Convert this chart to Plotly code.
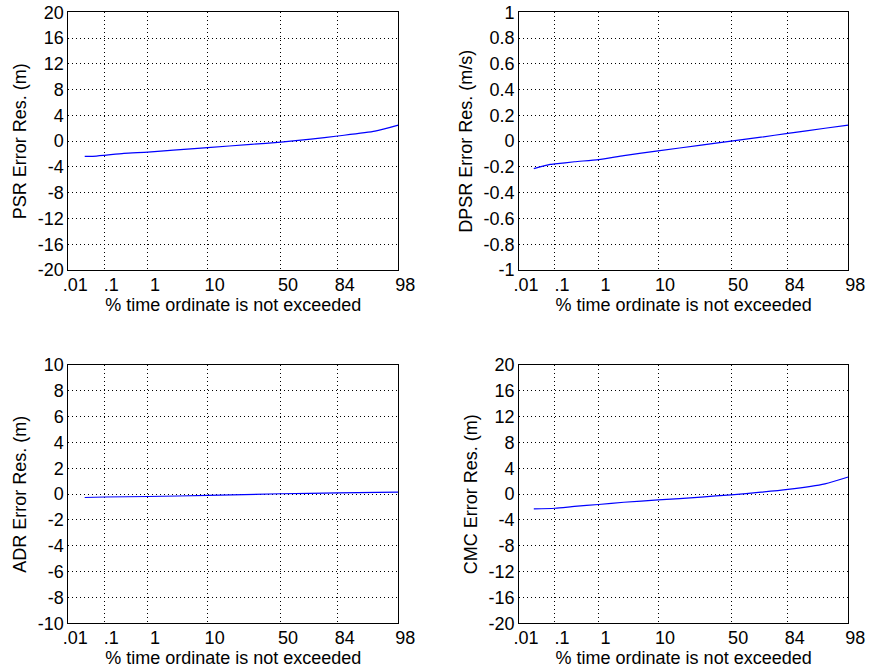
from statistics import NormalDist
import plotly.graph_objects as go

# ---------------- data ----------------
tick_pct = [0.01, 0.1, 1, 10, 50, 84, 98]
tick_txt = [".01", ".1", "1", "10", "50", "84", "98"]

psr_pct = [0.03, 0.05, 0.1, 0.3, 1, 3, 10, 30, 50, 70, 84, 95, 98]
psr_val = [-2.35, -2.35, -2.2, -1.9, -1.7, -1.4, -1.0, -0.5, -0.15, 0.3, 0.8, 1.55, 2.5]

dpsr_pct = [0.027, 0.075, 0.1, 0.3, 1, 3, 10, 30, 50, 70, 84, 95, 98]
dpsr_val = [-0.213, -0.18, -0.177, -0.16, -0.143, -0.112, -0.075, -0.031, 0.0, 0.031, 0.06, 0.1, 0.125]

adr_pct = [0.03, 0.1, 1, 10, 50, 84, 98]
adr_val = [-0.26, -0.22, -0.18, -0.1, 0.03, 0.1, 0.15]

cmc_pct = [0.027, 0.1, 0.3, 1, 3, 10, 30, 50, 70, 84, 95, 98]
cmc_val = [-2.29, -2.18, -1.9, -1.6, -1.25, -0.9, -0.45, -0.1, 0.3, 0.73, 1.6, 2.65]

psr_ticks = [-20, -16, -12, -8, -4, 0, 4, 8, 12, 16, 20]
dpsr_ticks = [-1, -0.8, -0.6, -0.4, -0.2, 0, 0.2, 0.4, 0.6, 0.8, 1]
adr_ticks = [-10, -8, -6, -4, -2, 0, 2, 4, 6, 8, 10]
cmc_ticks = [-20, -16, -12, -8, -4, 0, 4, 8, 12, 16, 20]

# ---------------- helpers ----------------
nd = NormalDist()


def z(p):
    return nd.inv_cdf(p / 100.0)


def fmt(v):
    return "%g" % v


FONT = "Liberation Sans, Arial, sans-serif"
fig = go.Figure()

panels = [
    (psr_pct, psr_val, psr_ticks, "PSR Error Res. (m)", "x", "y", [0.0784, 0.4573], [0.5982, 0.9817]),
    (dpsr_pct, dpsr_val, dpsr_ticks, "DPSR Error Res. (m/s)", "x2", "y2", [0.5959, 0.9739], [0.5982, 0.9817]),
    (adr_pct, adr_val, adr_ticks, "ADR Error Res. (m)", "x3", "y3", [0.0784, 0.4573], [0.0725, 0.4568]),
    (cmc_pct, cmc_val, cmc_ticks, "CMC Error Res. (m)", "x4", "y4", [0.5959, 0.9739], [0.0725, 0.4568]),
]

layout = {}
for pct, val, yt, ytitle, xa, ya, xdom, ydom in panels:
    fig.add_trace(go.Scatter(
        x=[z(p) for p in pct], y=val, mode="lines",
        line=dict(color="#0000ff", width=1.2, shape="spline", smoothing=0.6),
        xaxis=xa, yaxis=ya, showlegend=False, hoverinfo="skip"))
    xkey = "xaxis" + xa[1:]
    ykey = "yaxis" + ya[1:]
    layout[xkey] = dict(
        domain=xdom, anchor=ya, range=[z(tick_pct[0]), z(tick_pct[-1])],
        automargin=False,
        tickmode="array", tickvals=[z(p) for p in tick_pct], ticktext=tick_txt,
        showgrid=True, gridcolor="black", gridwidth=1, griddash="1px,3px",
        showline=True, linecolor="black", linewidth=1, mirror=True,
        zeroline=False, ticks="", ticklabelshift=7, ticklabelstandoff=-2,
        tickfont=dict(family=FONT, size=18, color="black"),
        title=dict(text="% time ordinate is not exceeded",
                   font=dict(family=FONT, size=18, color="black"), standoff=0),
    )
    layout[ykey] = dict(
        domain=ydom, anchor=xa, range=[yt[0], yt[-1]],
        automargin=False,
        tickmode="array", tickvals=yt, ticktext=[fmt(v) for v in yt],
        showgrid=True, gridcolor="black", gridwidth=1, griddash="1px,3px",
        showline=True, linecolor="black", linewidth=1, mirror=True,
        zeroline=False, ticks="", ticklabelstandoff=0,
        tickfont=dict(family=FONT, size=18, color="black"),
        title=dict(text=ytitle, font=dict(family=FONT, size=18, color="black"), standoff=6),
    )

fig.update_layout(
    width=871, height=672,
    margin=dict(l=0, r=0, t=0, b=0, autoexpand=False),
    paper_bgcolor="white", plot_bgcolor="white",
    showlegend=False,
    **layout,
)

fig.write_html("out.html")
